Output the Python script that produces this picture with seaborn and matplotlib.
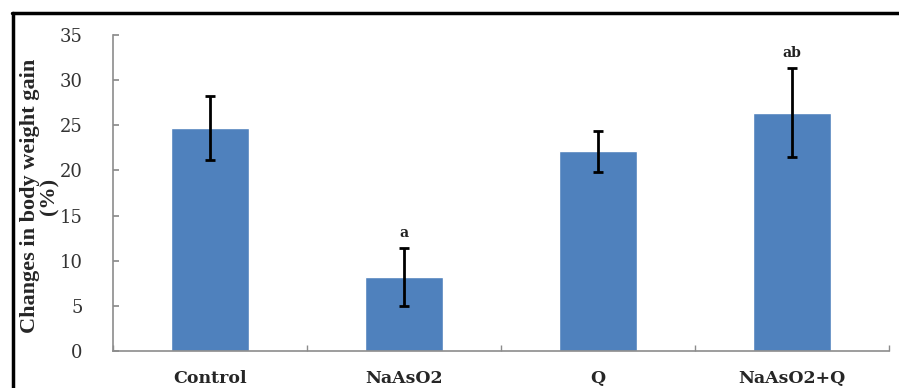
#!/usr/bin/env python3
# plot.py - body weight gain per group, bar chart with SD error bars

import numpy as np
import pandas as pd
import seaborn as sns
import matplotlib.pyplot as plt
from matplotlib.lines import Line2D

GROUPS    = ["Control", "NaAsO2", "Q", "NaAsO2+Q"]
GAIN_MEAN = [24.7, 8.2, 22.1, 26.4]
GAIN_SD   = [3.5, 3.2, 2.3, 4.9]
SIG_MARKS = ["", "a", "", "ab"]

BAR_COLOR = "#4F81BD"
WIDE      = ["DejaVu Serif"]
NARROW    = ["Liberation Serif", "DejaVu Serif"]


def main():
    sns.set_theme(style="white")
    plt.rcParams["font.family"] = WIDE

    df = pd.DataFrame({"group": GROUPS, "gain": GAIN_MEAN, "sd": GAIN_SD})

    fig = plt.figure(figsize=(8.99, 3.88), dpi=100)
    ax = fig.add_axes([113 / 899, 1 - 351 / 388, 776 / 899, 316 / 388])

    sns.barplot(data=df, x="group", y="gain", color=BAR_COLOR, saturation=1,
                width=0.4, errorbar=None, ax=ax)

    xs = np.arange(len(GROUPS))
    ax.errorbar(xs, df["gain"], yerr=df["sd"], fmt="none", ecolor="black",
                elinewidth=2, capsize=3.6, capthick=2, zorder=3)

    # significance letters above the error bars
    for x, m, s, lab in zip(xs, GAIN_MEAN, GAIN_SD, SIG_MARKS):
        if lab:
            ax.text(x, m + s + 0.9, lab, ha="center", va="bottom",
                    fontsize=10, fontweight="bold", color="#222222")

    ax.set_xlim(-0.5, len(GROUPS) - 0.5)
    ax.set_ylim(0, 35)
    ax.set_yticks(range(0, 36, 5))
    ax.set_xlabel("")
    ax.set_ylabel("Changes in body weight gain\n(%)", fontsize=16,
                  fontweight="bold", linespacing=0.95, family=NARROW)
    ax.yaxis.set_label_coords(-0.069, 0.49)

    for side in ("top", "right"):
        ax.spines[side].set_visible(False)
    for side in ("left", "bottom"):
        ax.spines[side].set_color("#8c8c8c")
        ax.spines[side].set_linewidth(1.2)

    ax.tick_params(axis="y", direction="in", length=4, color="#8c8c8c",
                   labelsize=13, labelcolor="#333333", pad=22, left=True)
    ax.tick_params(axis="x", length=0, labelsize=12.5, pad=14)
    for t in ax.get_xticklabels():
        t.set_fontweight("bold")
    # category boundary ticks
    ax.set_xticks(np.arange(-0.5, len(GROUPS)), minor=True)
    ax.tick_params(axis="x", which="minor", direction="in", length=4,
                   color="#8c8c8c", bottom=True)

    # black frame around the figure (left and top edges visible)
    fig.add_artist(Line2D([12.5 / 899, 12.5 / 899], [0, 1 - 13 / 388],
                          transform=fig.transFigure, color="black", lw=2.5))
    fig.add_artist(Line2D([11.5 / 899, 1], [1 - 13 / 388, 1 - 13 / 388],
                          transform=fig.transFigure, color="black", lw=2.5))

    fig.savefig("out.png", dpi=100)


if __name__ == "__main__":
    main()
